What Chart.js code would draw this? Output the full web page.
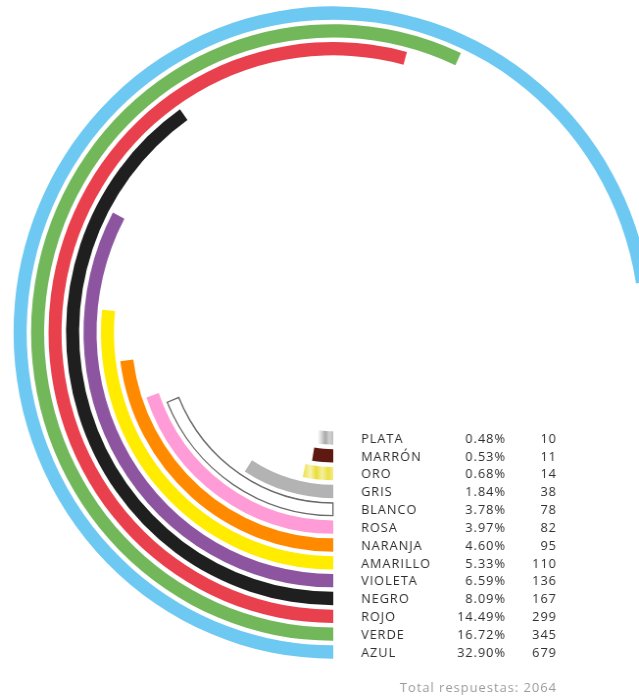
<!DOCTYPE html>
<html><head><meta charset="utf-8">
<script src="https://cdn.jsdelivr.net/npm/chart.js@4/dist/chart.umd.min.js"></script>
<style>
html,body{margin:0;padding:0;background:#fff;overflow:hidden;width:639px;height:696px;}
#wrap{position:absolute;left:0;top:0;width:680px;height:696px;transform:scaleX(0.98);transform-origin:0 0;}
canvas{display:block;}
</style></head><body>
<div id="wrap"><canvas id="c" width="680" height="696"></canvas></div>
<script>
// ---- data (legend order, top to bottom = innermost to outermost ring) ----
const categories = ['PLATA','MARRÓN','ORO','GRIS','BLANCO','ROSA','NARANJA','AMARILLO','VIOLETA','NEGRO','ROJO','VERDE','AZUL'];
const counts = [10,11,14,38,78,82,95,110,136,167,299,345,679];
const percentLabels = ['0.48%','0.53%','0.68%','1.84%','3.78%','3.97%','4.60%','5.33%','6.59%','8.09%','14.49%','16.72%','32.90%'];
const totalLabel = 'Total respuestas: 2064';
const colors = ['plata','#5e1a12','oro','#b3b3b3','#ffffff','#ff9bd6','#ff8a00','#ffec00','#8d55a0','#1f1f1f','#e8404c','#72b85b','#6dc8f2'];
// value -> sweep (degrees) scale, piecewise linear
const angleDomain = [0,167,299,345,679];
const angleRange  = [0,145,195,205,261];

function sweep(v){
  for(let k=1;k<angleDomain.length;k++){
    if(v<=angleDomain[k]){
      const t=(v-angleDomain[k-1])/(angleDomain[k]-angleDomain[k-1]);
      return angleRange[k-1]+t*(angleRange[k]-angleRange[k-1]);
    }
  }
  return angleRange[angleRange.length-1];
}

const gradStops = {
  oro:  [[0,'#efe35a'],[0.22,'#f8f3ae'],[0.42,'#e9dd3a'],[0.62,'#f6f09c'],[0.82,'#ebe04a'],[1,'#f3ec86']],
  plata:[[0,'#ffffff'],[0.25,'#d6d6d6'],[0.5,'#a9a9a9'],[0.75,'#d2d2d2'],[1,'#bdbdbd']]
};
function fillFor(c){
  if(c.dataIndex===1) return 'rgba(0,0,0,0)';
  const i=c.dataset.catIndex; const col=colors[i];
  if(!gradStops[col]) return col;
  const chart=c.chart, ca=chart.chartArea;
  const stops=gradStops[col];
  if(!ca) return stops[2][1];
  const ctrl=chart.getDatasetMeta(c.datasetIndex).controller;
  const cx=(ca.left+ca.right)/2+(ctrl.offsetX||0);
  const r=((ctrl.outerRadius||0)+(ctrl.innerRadius||0))/2;
  const th=sweep(counts[i])*Math.PI/180;
  const x0=cx-r*Math.sin(th);
  if(!(r>0)) return stops[2][1];
  const g=chart.ctx.createLinearGradient(x0,0,cx,0);
  stops.forEach(s=>g.addColorStop(s[0],s[1]));
  return g;
}

const GAP=0.274;
const datasets=[];
for(let i=categories.length-1;i>=0;i--){
  const s=sweep(counts[i]);
  datasets.push({
    label:categories[i], catIndex:i,
    data:[s,360-s],
    backgroundColor:fillFor,
    borderWidth: categories[i]==='BLANCO' ? [1,0] : 0,
    borderColor:'#6a6a6a',
    borderAlign:'inner',
    weight:1
  });
  if(i>0) datasets.push({data:[1],backgroundColor:'rgba(0,0,0,0)',borderWidth:0,weight:GAP});
}

const LABEL_X=368.4, PCT_X=516.3, CNT_X=568.3;
const labelPlugin={
  id:'ringLabels',
  afterDatasetsDraw(chart){
    const ctx=chart.ctx, ca=chart.chartArea;
    ctx.save();
    ctx.textBaseline='middle';
    ctx.font='13px "Open Sans"';
    ctx.fillStyle='#2e2e2e';
    if('letterSpacing' in ctx) ctx.letterSpacing='1px';
    chart.data.datasets.forEach((ds,di)=>{
      if(ds.catIndex===undefined) return;
      const ctrl=chart.getDatasetMeta(di).controller;
      const cy=(ca.top+ca.bottom)/2+(ctrl.offsetY||0);
      const y=cy+(ctrl.innerRadius+ctrl.outerRadius)/2+1;
      const i=ds.catIndex;
      ctx.textAlign='left';  ctx.fillText(categories[i],LABEL_X,y);
      ctx.textAlign='right'; ctx.fillText(percentLabels[i],PCT_X,y);
      ctx.fillText(String(counts[i]),CNT_X,y);
    });
    ctx.fillStyle='#9a9a9a';
    ctx.font='13.2px "Open Sans"';
    ctx.textAlign='right';
    ctx.fillText(totalLabel,CNT_X,688);
    ctx.restore();
  }
};

new Chart(document.getElementById('c'),{
  type:'doughnut',
  data:{labels:['valor','resto'],datasets},
  options:{
    responsive:false,animation:false,events:[],
    rotation:180,circumference:360,
    radius:326.5,cutout:'30.17%',
    layout:{padding:{bottom:31}},
    plugins:{legend:{display:false},tooltip:{enabled:false}}
  },
  plugins:[labelPlugin]
});
</script>
</body></html>
